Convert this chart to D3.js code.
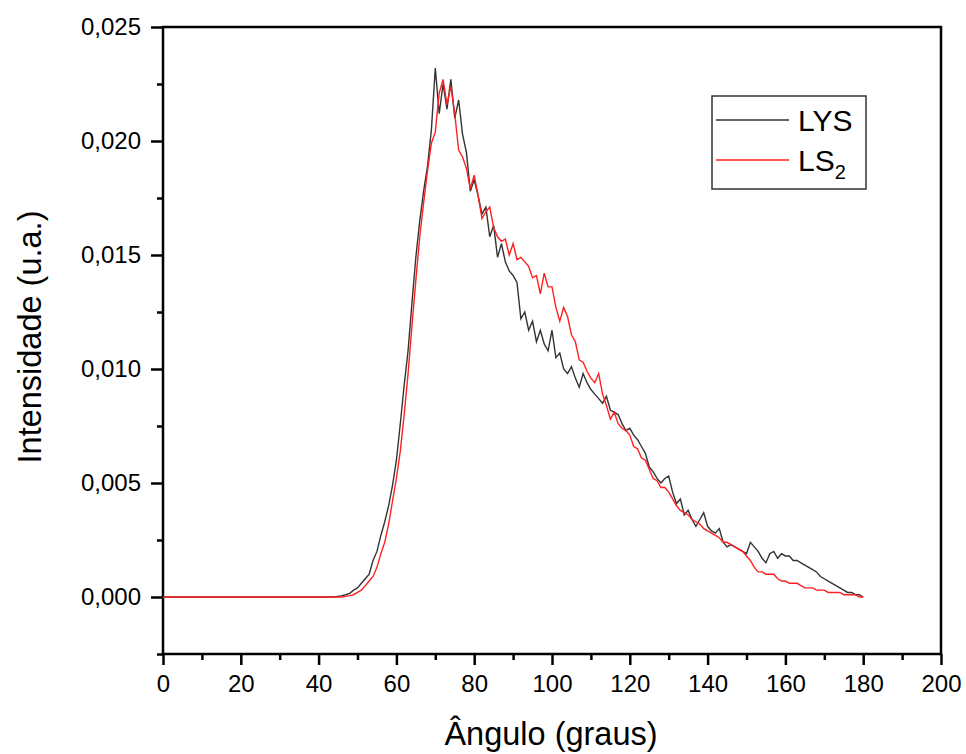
<!DOCTYPE html>
<html>
<head>
<meta charset="utf-8">
<script src="https://cdn.jsdelivr.net/npm/d3@7"></script>
<style>
  body { margin: 0; background: #fff; }
  text { font-family: "Liberation Sans", Arial, sans-serif; }
</style>
</head>
<body>
<div id="chart"></div>
<script>
// angle grid, 1 degree steps
const angles = d3.range(0, 181)

// LYS (black)
const lys = [
  0,0,0,0,0,0,0,0,0,0, 0,0,0,0,0,0,0,0,0,0,
  0,0,0,0,0,0,0,0,0,0, 0,0,0,0,0,0,0,0,0,0,
  0,0,0,0,0,0.00003,0.00006,0.0001,0.00016,0.0003,
  0.0004,0.0006,0.0008,0.001,0.0016,0.002,0.0027,0.0033,0.004,0.0049,
  0.006,0.0076,0.0093,0.0108,0.0129,0.0149,0.0165,0.0178,0.0189,0.0205,
  0.0232,0.0212,0.0225,0.0214,0.0227,0.021,0.0218,0.0203,0.0195,0.0178,
  0.0183,0.0176,0.0168,0.0171,0.0158,0.0163,0.0149,0.0155,0.0147,0.0143,
  0.0141,0.0138,0.0122,0.0125,0.0117,0.0121,0.0112,0.0117,0.0111,0.0108,
  0.0117,0.0105,0.0107,0.01,0.0098,0.0101,0.0096,0.0092,0.0098,0.0094,
  0.0091,0.0089,0.0087,0.0085,0.0088,0.0082,0.0081,0.008,0.0076,0.0073,
  0.0074,0.0071,0.0069,0.0066,0.0063,0.0057,0.0055,0.0052,0.005,0.0052,
  0.0053,0.0046,0.0041,0.0043,0.0036,0.0038,0.0034,0.0031,0.0034,0.0037,
  0.0031,0.0029,0.0028,0.003,0.0024,0.0022,0.0023,0.0022,0.0021,0.002,
  0.0019,0.0024,0.0022,0.002,0.0017,0.0015,0.0019,0.002,0.0017,0.0019,
  0.0018,0.0018,0.0016,0.0016,0.0015,0.0014,0.0013,0.0012,0.0011,0.0009,
  0.0008,0.0007,0.0006,0.0005,0.0004,0.0003,0.0002,0.0002,0.0001,0.0001,
  0
]

// LS2 (red)
const ls2 = [
  0,0,0,0,0,0,0,0,0,0, 0,0,0,0,0,0,0,0,0,0,
  0,0,0,0,0,0,0,0,0,0, 0,0,0,0,0,0,0,0,0,0,
  0,0,0,0,0,0,0,0.00003,0.00006,0.0001,
  0.0002,0.0003,0.0005,0.0007,0.0009,0.0013,0.0019,0.0024,0.0032,0.0042,
  0.0052,0.0064,0.008,0.0098,0.0119,0.0139,0.0158,0.0173,0.0187,0.0199,
  0.0204,0.0221,0.0227,0.0216,0.0224,0.0212,0.0196,0.0193,0.0188,0.0179,
  0.0185,0.0176,0.0166,0.0169,0.0171,0.0162,0.0158,0.0156,0.0157,0.015,
  0.0155,0.0148,0.0149,0.0147,0.0145,0.014,0.0141,0.0133,0.0142,0.0136,
  0.0136,0.0127,0.0121,0.0127,0.0123,0.0115,0.0112,0.0104,0.0103,0.0099,
  0.0096,0.0094,0.0098,0.0089,0.0084,0.0078,0.0081,0.0076,0.0074,0.0073,
  0.0071,0.0066,0.0065,0.0061,0.006,0.0056,0.0052,0.0051,0.0048,0.0048,
  0.0046,0.0043,0.004,0.0038,0.0037,0.0036,0.0034,0.0033,0.0032,0.003,
  0.0029,0.0028,0.0027,0.0026,0.0024,0.0024,0.0023,0.0022,0.0021,0.002,
  0.0018,0.0016,0.0013,0.0011,0.0011,0.001,0.001,0.001,0.0008,0.0007,
  0.0007,0.0006,0.0006,0.0006,0.0005,0.0004,0.0004,0.0004,0.0003,0.0003,
  0.0003,0.0002,0.0002,0.0002,0.0002,0.0001,0.0001,0.0001,0.0001,0,
  0
]

const xTicks = [0, 20, 40, 60, 80, 100, 120, 140, 160, 180, 200]
const yTicks = [0, 0.005, 0.010, 0.015, 0.020, 0.025]

const W = 966, H = 754
const mLeft = 163, mRight = 941, mTop = 27, mBottom = 654

const svg = d3.select('#chart')
  .append('svg')
  .attr('width', W)
  .attr('height', H)

const x = d3.scaleLinear().domain([0, 200]).range([mLeft, mRight])
const y = d3.scaleLinear().domain([-0.0025, 0.025]).range([mBottom, mTop])

const comma = v => d3.format('.3f')(v).replace('.', ',')

// minor ticks
svg.append('g')
  .attr('transform', `translate(0,${mBottom})`)
  .call(d3.axisBottom(x).tickValues(d3.range(10, 200, 20)).tickSize(6).tickFormat(''))
  .call(g => g.select('.domain').remove())
svg.append('g')
  .attr('transform', `translate(${mLeft},0)`)
  .call(d3.axisLeft(y).tickValues([-0.0025, 0.0025, 0.0075, 0.0125, 0.0175, 0.0225]).tickSize(6).tickFormat(''))
  .call(g => g.select('.domain').remove())

// major ticks
const xAxis = svg.append('g')
  .attr('transform', `translate(0,${mBottom})`)
  .call(d3.axisBottom(x).tickValues(xTicks).tickSize(11).tickPadding(10))
xAxis.select('.domain').remove()
xAxis.selectAll('text').attr('font-size', 24).attr('fill', '#000')

const yAxis = svg.append('g')
  .attr('transform', `translate(${mLeft},0)`)
  .call(d3.axisLeft(y).tickValues(yTicks).tickSize(12).tickPadding(10).tickFormat(comma))
yAxis.select('.domain').remove()
yAxis.selectAll('text').attr('font-size', 24).attr('fill', '#000')

svg.selectAll('.tick line').attr('stroke', '#000').attr('stroke-width', 2.5)

// frame
svg.append('rect')
  .attr('x', mLeft).attr('y', mTop)
  .attr('width', mRight - mLeft).attr('height', mBottom - mTop)
  .attr('fill', 'none')
  .attr('stroke', '#000')
  .attr('stroke-width', 2.5)

const line = d3.line()
  .x((d, i) => x(angles[i]))
  .y(d => y(d))

svg.append('path')
  .datum(lys)
  .attr('d', line)
  .attr('fill', 'none')
  .attr('stroke', '#333')
  .attr('stroke-width', 1.4)

svg.append('path')
  .datum(ls2)
  .attr('d', line)
  .attr('fill', 'none')
  .attr('stroke', '#ff2020')
  .attr('stroke-width', 1.4)

// legend
const lg = svg.append('g')
lg.append('rect')
  .attr('x', 712).attr('y', 96)
  .attr('width', 154).attr('height', 93)
  .attr('fill', '#fff')
  .attr('stroke', '#333')
  .attr('stroke-width', 1.5)
lg.append('line').attr('x1', 716).attr('x2', 789).attr('y1', 120).attr('y2', 120)
  .attr('stroke', '#333').attr('stroke-width', 1.3)
lg.append('line').attr('x1', 716).attr('x2', 789).attr('y1', 160).attr('y2', 160)
  .attr('stroke', '#ff2020').attr('stroke-width', 1.3)
lg.append('text').attr('x', 798).attr('y', 131).attr('font-size', 30).text('LYS')
const t2 = lg.append('text').attr('x', 798).attr('y', 171).attr('font-size', 30)
t2.append('tspan').text('LS')
t2.append('tspan').attr('font-size', 20).attr('dy', 8).text('2')

// axis titles
svg.append('text')
  .attr('x', 551).attr('y', 745)
  .attr('text-anchor', 'middle')
  .attr('font-size', 32.5)
  .text('Ângulo (graus)')

svg.append('text')
  .attr('transform', 'translate(41,337) rotate(-90)')
  .attr('text-anchor', 'middle')
  .attr('font-size', 32.5)
  .text('Intensidade (u.a.)')
</script>
</body>
</html>
